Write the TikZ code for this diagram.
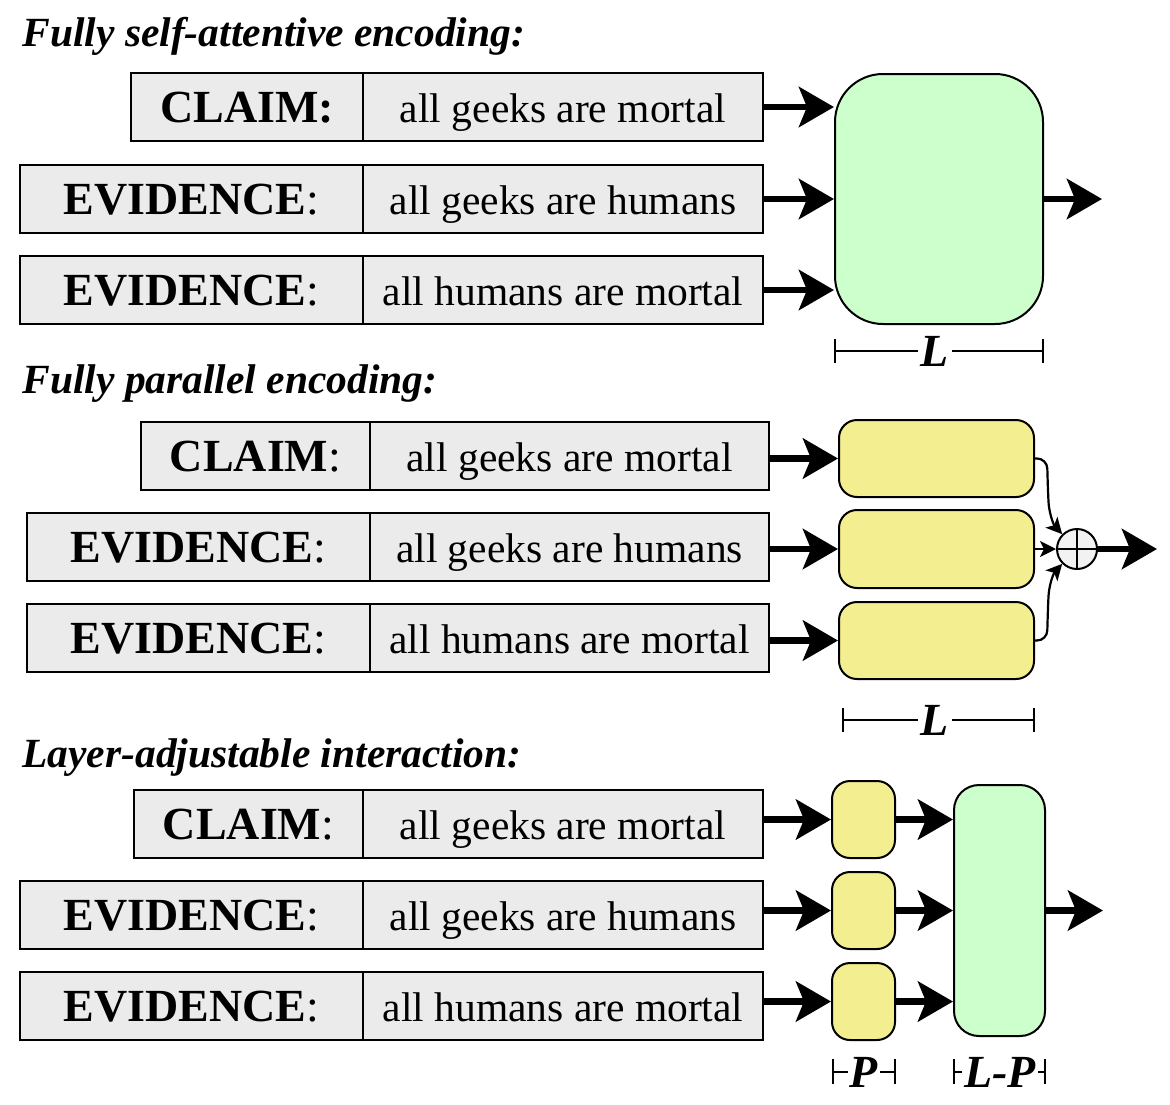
\documentclass[tikz,border=0pt]{standalone}
\usepackage{fontspec}
\setmainfont{Liberation Serif}
\usetikzlibrary{arrows.meta}
\definecolor{cellgray}{HTML}{EBEBEB}
\definecolor{greenbox}{HTML}{CCFFCC}
\definecolor{yellowbox}{HTML}{F3EE90}
\definecolor{oplusgray}{HTML}{F2F2F2}
\newcommand{\txtf}{\fontsize{20.75}{24}\selectfont}
\newcommand{\labf}{\fontsize{23}{26}\selectfont\bfseries}
\newcommand{\ttlf}{\fontsize{20.75}{24}\selectfont\bfseries\itshape}
\newcommand{\dimf}{\fontsize{23}{26}\selectfont\bfseries\itshape}
\tikzset{
  cell/.style={draw, line width=1pt, fill=cellgray, inner sep=0pt, minimum height=34pt, text height=15.2pt, text depth=0pt},
  lab/.style={cell, font=\labf},
  txt/.style={cell, font=\txtf},
  greenblk/.style={draw, line width=1pt, fill=greenbox, inner sep=0pt},
  yellowblk/.style={draw, line width=1pt, fill=yellowbox, inner sep=0pt, rounded corners=9pt},
  bigarrow/.style={-{Stealth[length=17.5pt,width=20pt,inset=4pt]}, line width=3.4pt},
  thinarrow/.style={-{Stealth[length=8pt,width=8pt,inset=2pt]}, line width=1.1pt},
  dimline/.style={line width=0.8pt},
  dimlab/.style={font=\dimf, inner sep=1.5pt},
  ttl/.style={font=\ttlf, anchor=base west, inner sep=0pt},
}
\begin{document}
\begin{tikzpicture}[x=0.5pt,y=-0.5pt]
\useasboundingbox (0,0) rectangle (1170,1104);

% ---------------- Section 1 ----------------
\node[ttl] (t1) at (22,46) {Fully self-attentive encoding:};
\node[lab, minimum width=116pt] (c1lab) at (247,107) {CLAIM:};
\node[txt, minimum width=200pt] (c1txt) at (563,107) {all geeks are mortal};
\node[lab, minimum width=171.5pt] (e1lab) at (191.5,199) {EVIDENCE{\mdseries :}};
\node[txt, minimum width=200pt] (e1txt) at (563,199) {all geeks are humans};
\node[lab, minimum width=171.5pt] (e2lab) at (191.5,290) {EVIDENCE{\mdseries :}};
\node[txt, minimum width=200pt] (e2txt) at (563,290) {all humans are mortal};
\node[greenblk, rounded corners=24pt, minimum width=104pt, minimum height=125pt] (g1) at (939,199) {};
\draw[bigarrow] (c1txt.east) -- (c1txt.east -| g1.west);
\draw[bigarrow] (e1txt.east) -- (e1txt.east -| g1.west);
\draw[bigarrow] (e2txt.east) -- (e2txt.east -| g1.west);
\coordinate (o1) at (1102,199);
\draw[bigarrow] (g1.east) -- (o1);
\coordinate (d1a) at (835,351);
\coordinate (d1b) at (1043,351);
\node[dimlab] (L1) at (935,351) {L};
\draw[dimline] (d1a) -- (L1) -- (d1b);
\draw[dimline] (835,339) -- (835,363);
\draw[dimline] (1043,339) -- (1043,363);

% ---------------- Section 2 ----------------
\node[ttl] (t2) at (22,393) {Fully parallel encoding:};
\node[lab, minimum width=114.5pt] (c2lab) at (255.5,456) {CLAIM{\mdseries :}};
\node[txt, minimum width=199.5pt] (c2txt) at (569.5,456) {all geeks are mortal};
\node[lab, minimum width=171.5pt] (e3lab) at (198.5,547) {EVIDENCE{\mdseries :}};
\node[txt, minimum width=199.5pt] (e3txt) at (569.5,547) {all geeks are humans};
\node[lab, minimum width=171.5pt] (e4lab) at (198.5,638) {EVIDENCE{\mdseries :}};
\node[txt, minimum width=199.5pt] (e4txt) at (569.5,638) {all humans are mortal};
\node[yellowblk, minimum width=97.5pt, minimum height=38.5pt] (y1) at (936.5,458.5) {};
\node[yellowblk, minimum width=97.5pt, minimum height=39pt] (y2) at (936.5,549) {};
\node[yellowblk, minimum width=97.5pt, minimum height=38.5pt] (y3) at (936.5,640.5) {};
\draw[bigarrow] (y1.west -| c2txt.east) -- (y1.west);
\draw[bigarrow] (y2.west -| e3txt.east) -- (y2.west);
\draw[bigarrow] (y3.west -| e4txt.east) -- (y3.west);
\node[draw, circle, line width=1pt, fill=oplusgray, minimum size=20pt, inner sep=0pt] (op) at (1077,549) {};
\draw[line width=1pt] (op.north) -- (op.south) (op.west) -- (op.east);
\draw[thinarrow, rounded corners=5pt] (y1.east) -- (1047,458.5) -- (1048,492) .. controls (1049,512) and (1053,524) .. (op.135);
\draw[thinarrow, rounded corners=5pt] (y3.east) -- (1047,640.5) -- (1048,606) .. controls (1049,586) and (1053,574) .. (op.-135);
\draw[thinarrow] (y2.east) -- (op.west);
\coordinate (o2) at (1157,549);
\draw[bigarrow] (op.east) -- (o2);
\coordinate (d2a) at (843,720);
\coordinate (d2b) at (1034,720);
\node[dimlab] (L2) at (935,720) {L};
\draw[dimline] (d2a) -- (L2) -- (d2b);
\draw[dimline] (843,708) -- (843,732);
\draw[dimline] (1034,708) -- (1034,732);

% ---------------- Section 3 ----------------
\node[ttl] (t3) at (22,767) {Layer-adjustable interaction:};
\node[lab, minimum width=114.5pt] (c3lab) at (248.5,824) {CLAIM{\mdseries :}};
\node[txt, minimum width=200pt] (c3txt) at (563,824) {all geeks are mortal};
\node[lab, minimum width=171.5pt] (e5lab) at (191.5,915) {EVIDENCE{\mdseries :}};
\node[txt, minimum width=200pt] (e5txt) at (563,915) {all geeks are humans};
\node[lab, minimum width=171.5pt] (e6lab) at (191.5,1006) {EVIDENCE{\mdseries :}};
\node[txt, minimum width=200pt] (e6txt) at (563,1006) {all humans are mortal};
\node[yellowblk, minimum width=31.5pt, minimum height=38.5pt] (p1) at (863.5,819.5) {};
\node[yellowblk, minimum width=31.5pt, minimum height=38.5pt] (p2) at (863.5,910.5) {};
\node[yellowblk, minimum width=31.5pt, minimum height=38.5pt] (p3) at (863.5,1001.5) {};
\node[greenblk, rounded corners=12.5pt, minimum width=45.5pt, minimum height=125.5pt] (g3) at (999.5,910.5) {};
\draw[bigarrow] (p1.west -| c3txt.east) -- (p1.west);
\draw[bigarrow] (p2.west -| e5txt.east) -- (p2.west);
\draw[bigarrow] (p3.west -| e6txt.east) -- (p3.west);
\draw[bigarrow] (p1.east) -- (p1.east -| g3.west);
\draw[bigarrow] (p2.east) -- (p2.east -| g3.west);
\draw[bigarrow] (p3.east) -- (p3.east -| g3.west);
\coordinate (o3) at (1103,910.5);
\draw[bigarrow] (g3.east) -- (o3);
\coordinate (d3a) at (833,1072);
\coordinate (d3b) at (895,1072);
\node[dimlab, inner sep=1pt] (P3) at (864,1072) {P};
\draw[dimline] (d3a) -- (P3) -- (d3b);
\draw[dimline] (833,1059) -- (833,1084);
\draw[dimline] (895,1059) -- (895,1084);
\coordinate (d4a) at (954,1072);
\coordinate (d4b) at (1045,1072);
\node[dimlab, inner sep=1pt] (LP3) at (1000,1072) {L-P};
\draw[dimline] (d4a) -- (LP3) -- (d4b);
\draw[dimline] (954,1059) -- (954,1084);
\draw[dimline] (1045,1059) -- (1045,1084);
\end{tikzpicture}
\end{document}
